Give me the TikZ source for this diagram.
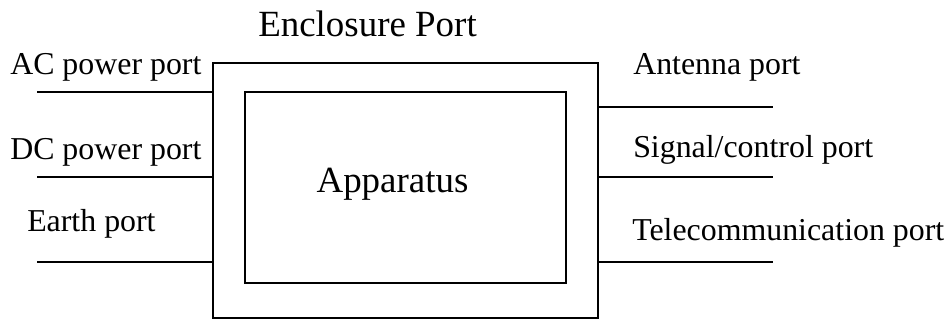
\documentclass[tikz,border=0pt]{standalone}
\usepackage{fontspec}
\setmainfont{Liberation Serif}
\usetikzlibrary{positioning,calc}

\begin{document}
\begin{tikzpicture}[x=0.75pt,y=-0.75pt,
    box/.style={draw, line width=1pt, inner sep=0pt},
    portlabel/.style={anchor=base west, inner sep=0pt, font=\fontsize{23.9}{28}\selectfont},
    bigtext/.style={inner sep=0pt, font=\fontsize{27.7}{32}\selectfont},
    portline/.style={line width=1pt}]
\useasboundingbox (0,0) rectangle (948,320);

% Enclosure and apparatus
\node[box, minimum width=385*0.75pt, minimum height=255*0.75pt] (encl) at (405.5,190.5) {};
\node[box, minimum width=321*0.75pt, minimum height=191*0.75pt] (app) at (405.5,187.5) {};
\node[bigtext, anchor=base] (apptext) at (392.5,193) {Apparatus};
\node[bigtext, anchor=base west] (encltext) at (258,37) {Enclosure Port};

% Left side ports
\node[portlabel] (aclabel) at (10,75) {AC power port};
\node[portlabel] (dclabel) at (10,160) {DC power port};
\node[portlabel] (earthlabel) at (27,232) {Earth port};
\coordinate (ac) at (37,92);
\coordinate (dc) at (37,177);
\coordinate (earth) at (37,262);
\foreach \p in {ac, dc, earth} {
    \draw[portline] (\p) -- (\p -| encl.west);
}

% Right side ports
\node[portlabel] (antlabel) at (633,75) {Antenna port};
\node[portlabel] (siglabel) at (633,158) {Signal/control port};
\node[portlabel] (tellabel) at (632,240) {Telecommunication port};
\coordinate (ant) at (773,107);
\coordinate (sig) at (773,177);
\coordinate (tel) at (773,262);
\foreach \p in {ant, sig, tel} {
    \draw[portline] (\p -| encl.east) -- (\p);
}

\end{tikzpicture}
\end{document}
